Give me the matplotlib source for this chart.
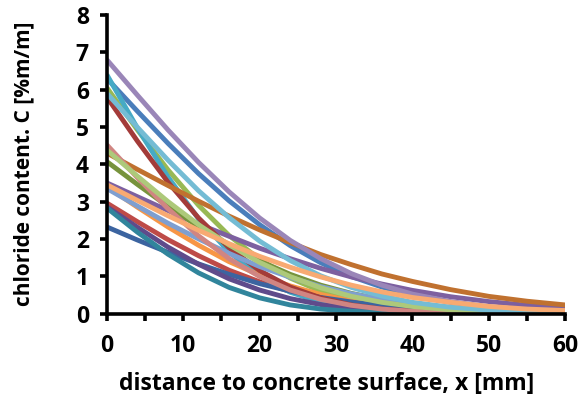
import numpy as np
import matplotlib
matplotlib.use("Agg")
import matplotlib.pyplot as plt
from matplotlib.ticker import MultipleLocator

depth = [0, 4, 8, 12, 16, 20, 24, 28, 32, 36, 40, 45, 50, 55, 60]

# chloride profiles [%m/m], in series order (later series drawn on top)
prof_01 = [6.30, 5.42, 4.56, 3.75, 3.02, 2.38, 1.82, 1.36, 0.99, 0.71, 0.49, 0.30, 0.17, 0.09, 0.05]
prof_02 = [2.96, 2.46, 1.98, 1.55, 1.16, 0.85, 0.59, 0.40, 0.26, 0.16, 0.10, 0.05, 0.02, 0.01, 0.00]
prof_03 = [6.05, 4.92, 3.85, 2.90, 2.09, 1.45, 0.95, 0.60, 0.36, 0.21, 0.11, 0.05, 0.02, 0.01, 0.00]
prof_04 = [3.50, 3.13, 2.76, 2.40, 2.07, 1.75, 1.47, 1.21, 0.98, 0.79, 0.62, 0.45, 0.32, 0.22, 0.15]
prof_05 = [6.40, 4.97, 3.66, 2.54, 1.65, 1.01, 0.57, 0.31, 0.15, 0.07, 0.03, 0.01, 0.00, 0.00, 0.00]
prof_06 = [3.40, 2.85, 2.32, 1.83, 1.39, 1.03, 0.74, 0.51, 0.34, 0.22, 0.14, 0.07, 0.03, 0.02, 0.01]
prof_07 = [2.32, 1.97, 1.64, 1.33, 1.05, 0.80, 0.60, 0.43, 0.31, 0.21, 0.14, 0.08, 0.04, 0.02, 0.01]
prof_08 = [5.80, 4.62, 3.52, 2.56, 1.76, 1.15, 0.71, 0.42, 0.23, 0.12, 0.06, 0.02, 0.01, 0.00, 0.00]
prof_09 = [4.07, 3.46, 2.87, 2.33, 1.84, 1.41, 1.05, 0.76, 0.54, 0.37, 0.24, 0.14, 0.08, 0.04, 0.02]
prof_10 = [2.86, 2.31, 1.78, 1.32, 0.93, 0.63, 0.40, 0.24, 0.14, 0.08, 0.04, 0.02, 0.01, 0.00, 0.00]
prof_11 = [2.83, 2.18, 1.59, 1.09, 0.70, 0.42, 0.23, 0.12, 0.06, 0.03, 0.01, 0.00, 0.00, 0.00, 0.00]
prof_12 = [4.30, 3.86, 3.43, 3.01, 2.61, 2.24, 1.90, 1.58, 1.31, 1.06, 0.86, 0.64, 0.46, 0.33, 0.23]
prof_13 = [3.35, 2.88, 2.42, 2.00, 1.61, 1.26, 0.97, 0.72, 0.53, 0.38, 0.26, 0.16, 0.09, 0.05, 0.03]
prof_14 = [4.52, 3.64, 2.81, 2.08, 1.47, 0.99, 0.63, 0.38, 0.22, 0.12, 0.06, 0.03, 0.01, 0.00, 0.00]
prof_15 = [4.38, 3.68, 3.00, 2.38, 1.84, 1.37, 0.99, 0.69, 0.46, 0.30, 0.19, 0.10, 0.05, 0.02, 0.01]
prof_16 = [6.80, 5.85, 4.92, 4.05, 3.26, 2.56, 1.96, 1.47, 1.07, 0.76, 0.52, 0.32, 0.18, 0.10, 0.05]
prof_17 = [5.90, 4.99, 4.11, 3.29, 2.57, 1.94, 1.42, 1.01, 0.70, 0.47, 0.30, 0.17, 0.09, 0.04, 0.02]
prof_18 = [3.45, 3.03, 2.62, 2.23, 1.87, 1.53, 1.24, 0.98, 0.76, 0.58, 0.43, 0.30, 0.19, 0.12, 0.08]

profiles = [prof_01, prof_02, prof_03, prof_04, prof_05, prof_06, prof_07, prof_08, prof_09,
            prof_10, prof_11, prof_12, prof_13, prof_14, prof_15, prof_16, prof_17, prof_18]

# excel-like series colours
colors = ["#4A7EBB", "#BE4B48", "#98B954", "#7D60A0", "#46AAC5", "#F79646",
          "#3C64A0", "#A33B39", "#77933C", "#5F4B8B", "#31859C", "#C0712F",
          "#7F9FD0", "#D08582", "#ADC97A", "#9A86B8", "#74BCD4", "#F8AA72"]

plt.rcParams['font.family'] = ['Open Sans', 'DejaVu Sans']
plt.rcParams['font.weight'] = 'bold'

fig = plt.figure(figsize=(5.87, 4.03), dpi=100)
ax = fig.add_axes([0.182, 0.222, 0.781, 0.741])

for p, c in zip(profiles, colors):
    ax.plot(depth, p, color=c, lw=3.5, solid_capstyle='butt')

ax.set_xlim(0, 60)
ax.set_ylim(0, 8)
ax.xaxis.set_major_locator(MultipleLocator(10))
ax.xaxis.set_minor_locator(MultipleLocator(5))
ax.yaxis.set_major_locator(MultipleLocator(1))

for s in ['top', 'right']:
    ax.spines[s].set_visible(False)
for s in ['left', 'bottom']:
    ax.spines[s].set_linewidth(2.6)
ax.tick_params(axis='both', which='both', direction='out', width=2.6, length=5, labelsize=16.5)
ax.tick_params(axis='x', pad=10)
ax.tick_params(axis='y', pad=8)

ax.set_xlabel('distance to concrete surface, x [mm]', fontsize=16.5, fontweight='bold', labelpad=10)
ax.set_ylabel('chloride content. C [%m/m]', fontsize=15, fontweight='bold', labelpad=30)
ax.xaxis.set_label_coords(0.48, -0.195)

fig.savefig('out.png', dpi=100)
